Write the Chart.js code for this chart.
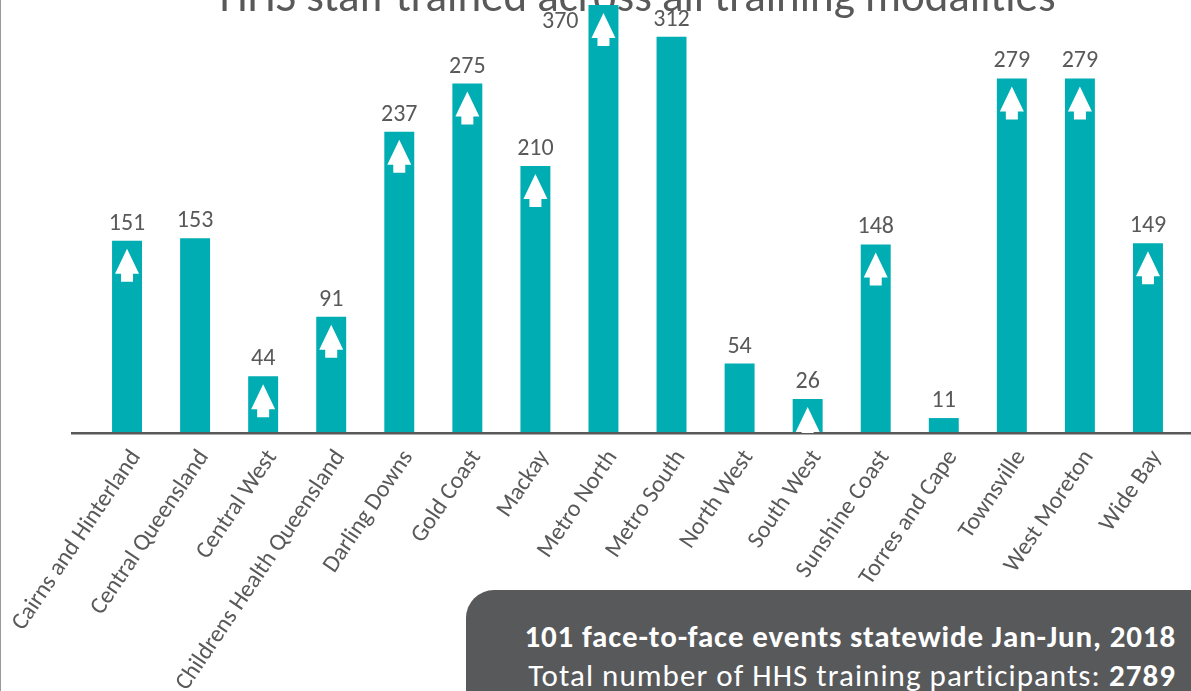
<!DOCTYPE html>
<html>
<head>
<meta charset="utf-8">
<script src="https://cdn.jsdelivr.net/npm/chart.js@4.4.1/dist/chart.umd.min.js"></script>
<style>
  html, body { margin:0; padding:0; background:#ffffff; }
  body { width:1191px; height:691px; overflow:hidden; position:relative; }
  #wrap { position:absolute; left:0; top:-40px; width:1191px; height:731px; }
  #leftLine { position:absolute; left:0; top:0; width:1px; height:691px; background:#9a9a9a; }
  #box { position:absolute; left:466px; top:590px; right:-20px; bottom:-20px; background:#58595b; border-top-left-radius:28px; }
  .line { position:absolute; right:35px; white-space:nowrap; color:#ffffff; font-family:Carlito, Lato, "Open Sans", sans-serif; font-size:31px; line-height:31px; }
  #line1 { top:31px; font-weight:700; letter-spacing:0.85px; }
  #line2 { top:70px; font-weight:400; letter-spacing:1.05px; }
  #line2 b { font-weight:700; }
</style>
</head>
<body>
<div id="wrap"><canvas id="c"></canvas></div>
<div id="leftLine"></div>
<div id="box">
  <div class="line" id="line1"></div>
  <div class="line" id="line2"></div>
</div>
<script>
// ---- data ----
const titleText = 'HHS staff trained across all training modalities';
const categories = ['Cairns and Hinterland', 'Central Queensland', 'Central West', 'Childrens Health Queensland', 'Darling Downs', 'Gold Coast', 'Mackay', 'Metro North', 'Metro South', 'North West', 'South West', 'Sunshine Coast', 'Torres and Cape', 'Townsville', 'West Moreton', 'Wide Bay'];
const participants = [151, 153, 44, 91, 237, 275, 210, 370, 312, 54, 26, 148, 11, 279, 279, 149];
const increased = [true, false, true, true, true, true, true, true, false, false, true, true, false, true, true, true];
const eventsLine = '101 face-to-face events statewide Jan-Jun, 2018';
const totalLabel = 'Total number of HHS training participants: ';
const totalParticipants = 2789;

document.getElementById('line1').textContent = eventsLine;
document.getElementById('line2').innerHTML = totalLabel + '<b>' + totalParticipants + '</b>';

const TEXT_GREY = '#595959';
const BAR_TEAL = '#00adb3';
const FONT = 'Carlito, Calibri, Lato, "Open Sans", sans-serif';

const overlayPlugin = {
  id: 'overlay',
  afterDatasetsDraw(chart) {
    const ctx = chart.ctx;
    const area = chart.chartArea;
    const meta = chart.getDatasetMeta(0);
    const baseY = area.bottom;
    // axis line
    ctx.save();
    ctx.strokeStyle = TEXT_GREY;
    ctx.lineWidth = 2.5;
    ctx.beginPath();
    ctx.moveTo(71, baseY + 1.3);
    ctx.lineTo(chart.width, baseY + 1.3);
    ctx.stroke();
    ctx.restore();
    // arrows
    ctx.save();
    ctx.beginPath();
    ctx.rect(area.left, area.top, area.right - area.left, baseY - area.top + 1);
    ctx.clip();
    ctx.fillStyle = '#ffffff';
    meta.data.forEach((bar, i) => {
      if (!increased[i]) return;
      const cx = bar.x;
      const top = Math.max(bar.y, area.top);
      const tip = top + 8;
      const headB = tip + 25;
      const shaftB = headB + 8;
      ctx.beginPath();
      ctx.moveTo(cx, tip);
      ctx.lineTo(cx + 12, headB);
      ctx.lineTo(cx + 6, headB);
      ctx.lineTo(cx + 6, shaftB);
      ctx.lineTo(cx - 6, shaftB);
      ctx.lineTo(cx - 6, headB);
      ctx.lineTo(cx - 12, headB);
      ctx.closePath();
      ctx.fill();
    });
    ctx.restore();
    // value labels
    ctx.save();
    ctx.fillStyle = TEXT_GREY;
    ctx.font = '400 24px ' + FONT;
    ctx.textBaseline = 'middle';
    meta.data.forEach((bar, i) => {
      const v = participants[i];
      if (bar.y < area.top) {
        ctx.textAlign = 'right';
        ctx.fillText(String(v), bar.x - bar.width / 2 - 10, area.top + 17);
      } else {
        ctx.textAlign = 'center';
        ctx.fillText(String(v), bar.x, bar.y - 17);
      }
    });
    ctx.restore();
  }
};

new Chart(document.getElementById('c'), {
  type: 'bar',
  data: {
    labels: categories,
    datasets: [{
      data: participants,
      backgroundColor: BAR_TEAL,
      barPercentage: 0.44,
      categoryPercentage: 1,
      clip: 0
    }]
  },
  options: {
    responsive: true,
    maintainAspectRatio: false,
    devicePixelRatio: 1,
    animation: false,
    layout: { padding: { left: 93, right: 9, top: 0, bottom: 0 } },
    plugins: {
      legend: { display: false },
      tooltip: { enabled: false },
      title: {
        display: true,
        text: titleText,
        color: TEXT_GREY,
        fullSize: false,
        font: { family: FONT, size: 45, weight: '400', lineHeight: 0.222 },
        padding: { top: 35, bottom: 0 }
      }
    },
    scales: {
      x: {
        grid: { display: false },
        border: { display: false },
        ticks: {
          color: TEXT_GREY,
          font: { family: FONT, size: 24 },
          minRotation: 56,
          maxRotation: 56,
          autoSkip: false,
          padding: 5,
          labelOffset: 9
        },
        afterFit: (s) => { s.height = 259; }
      },
      y: { display: false, min: 0, max: 337 }
    }
  },
  plugins: [overlayPlugin]
});
</script>
</body>
</html>
